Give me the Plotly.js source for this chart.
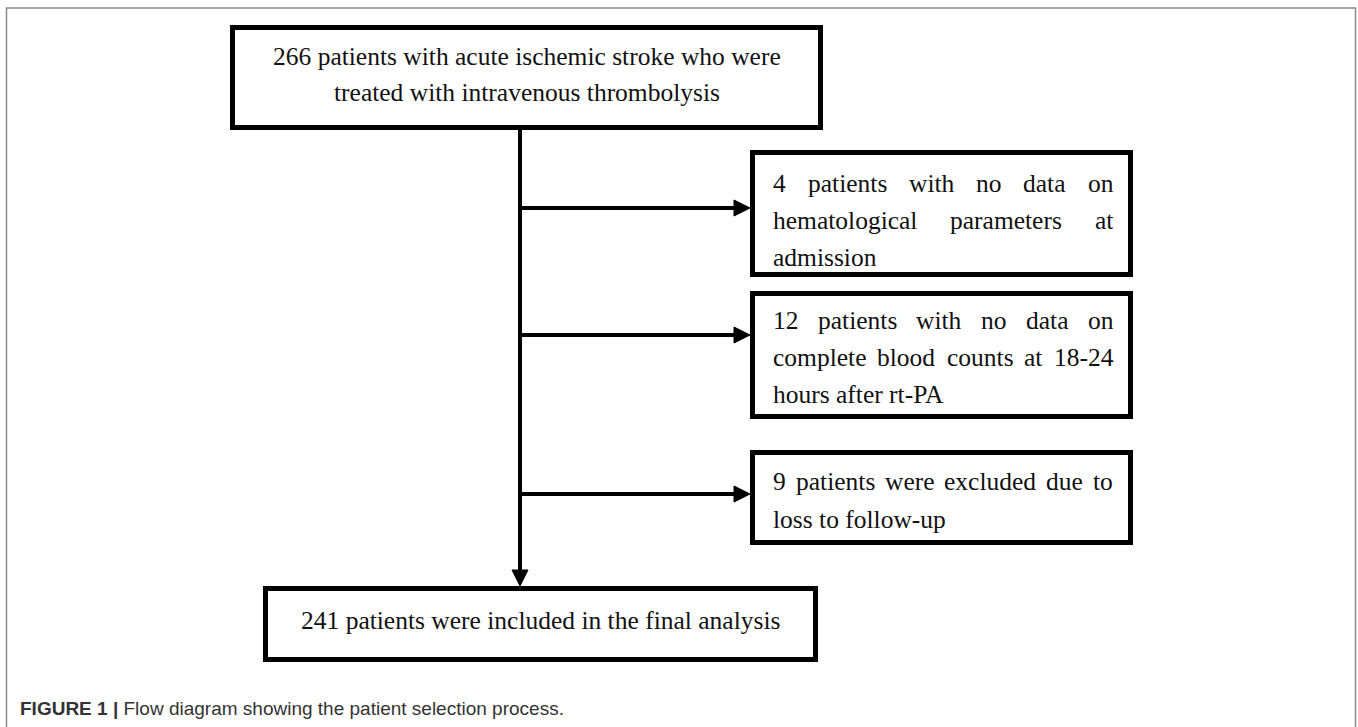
<!DOCTYPE html>
<html>
<head>
<meta charset="utf-8">
<script src="https://cdn.plot.ly/plotly-3.0.1.min.js"></script>
<style>
  html, body { margin: 0; padding: 0; background: #ffffff; }
  #chart { width: 1358px; height: 727px; }
</style>
</head>
<body>
<div id="chart"></div>
<script>
// ---- Data: flow-diagram content ----
const startText = ["266 patients with acute ischemic stroke who were", "treated with intravenous thrombolysis"];
const exclusionTexts = [
  ["4 patients with no data on", "hematological parameters at", "admission"],
  ["12 patients with no data on", "complete blood counts at 18-24", "hours after rt-PA"],
  ["9 patients were excluded due to", "loss to follow-up"]
];
const finalText = ["241 patients were included in the final analysis"];
const captionBold = "FIGURE 1 |";
const captionText = "Flow diagram showing the patient selection process.";

// ---- Layout (pixel coordinates) ----
const W = 1358, H = 727;
const FONT = "Liberation Serif, Times New Roman, serif";
const FS = 25.5;
const BW = 5;           // box border width
const LW = 4;           // connector width
const topBox = {x0: 230, y0: 25, x1: 823, y1: 130, lines: [56, 92]};
const exclBoxes = [
  {x0: 750, y0: 150, x1: 1133, y1: 277, lines: [183, 220, 257], arrowY: 208},
  {x0: 750, y0: 291, x1: 1133, y1: 419, lines: [320, 357, 394], arrowY: 335},
  {x0: 750, y0: 450, x1: 1133, y1: 545, lines: [481, 519], arrowY: 494}
];
const botBox = {x0: 263, y0: 586, x1: 818, y1: 662, lines: [620]};
const trunkX = 520;
const textL = 772, textR = 1112;
const headLen = 16, headHalf = 8;

const shapes = [];
const annotations = [];

// outer frame
shapes.push({type: 'rect', xref: 'x', yref: 'y', x0: 6.5, y0: 8, x1: 1355.5, y1: 760,
  line: {color: '#8a8a8a', width: 1.5}, fillcolor: 'rgba(0,0,0,0)'});

function box(b) {
  const h = BW / 2;
  shapes.push({type: 'rect', xref: 'x', yref: 'y', x0: b.x0 + h, y0: b.y0 + h, x1: b.x1 - h, y1: b.y1 - h,
    line: {color: '#000', width: BW}, fillcolor: '#fff'});
}
function centered(lines, b) {
  const cx = (b.x0 + b.x1) / 2;
  lines.forEach((t, i) => annotations.push({x: cx, y: b.lines[i], xref: 'x', yref: 'y', text: t,
    showarrow: false, xanchor: 'center', yanchor: 'middle', font: {family: FONT, size: FS, color: '#111'}}));
}

// text measurement for justified lines
const ctx = document.createElement('canvas').getContext('2d');
ctx.font = FS + "px 'Liberation Serif'";
function justified(lines, b) {
  lines.forEach((t, i) => {
    const y = b.lines[i];
    const words = t.split(' ');
    if (i === lines.length - 1 || words.length < 2) {
      annotations.push({x: textL, y: y, xref: 'x', yref: 'y', text: t, showarrow: false,
        xanchor: 'left', yanchor: 'middle', borderpad: 0, font: {family: FONT, size: FS, color: '#111'}});
      return;
    }
    const widths = words.map(w => ctx.measureText(w).width);
    const sum = widths.reduce((a, c) => a + c, 0);
    const gap = (textR - textL - sum) / (words.length - 1);
    let cx = textL;
    words.forEach((w, k) => {
      annotations.push({x: cx, y: y, xref: 'x', yref: 'y', text: w, showarrow: false,
        xanchor: 'left', yanchor: 'middle', borderpad: 0, font: {family: FONT, size: FS, color: '#111'}});
      cx += widths[k] + gap;
    });
  });
}

// connectors
shapes.push({type: 'line', xref: 'x', yref: 'y', x0: trunkX, y0: topBox.y1 - 1, x1: trunkX, y1: botBox.y0 - headLen + 2,
  line: {color: '#000', width: LW}});
shapes.push({type: 'path', xref: 'x', yref: 'y',
  path: `M ${trunkX - headHalf} ${botBox.y0 - headLen} L ${trunkX + headHalf} ${botBox.y0 - headLen} L ${trunkX} ${botBox.y0} Z`,
  fillcolor: '#000', line: {color: '#000', width: 1}});
exclBoxes.forEach(b => {
  shapes.push({type: 'line', xref: 'x', yref: 'y', x0: trunkX, y0: b.arrowY, x1: b.x0 - headLen + 2, y1: b.arrowY,
    line: {color: '#000', width: LW}});
  shapes.push({type: 'path', xref: 'x', yref: 'y',
    path: `M ${b.x0 - headLen} ${b.arrowY - headHalf} L ${b.x0 - headLen} ${b.arrowY + headHalf} L ${b.x0} ${b.arrowY} Z`,
    fillcolor: '#000', line: {color: '#000', width: 1}});
});

box(topBox); centered(startText, topBox);
exclBoxes.forEach((b, i) => { box(b); justified(exclusionTexts[i], b); });
box(botBox); centered(finalText, botBox);

// caption
annotations.push({x: 18, y: 708, xref: 'x', yref: 'y', showarrow: false, xanchor: 'left', yanchor: 'middle',
  text: '<b>' + captionBold + '</b> ' + captionText,
  font: {family: 'Liberation Sans, Arial, sans-serif', size: 19, color: '#333'}});

const layout = {
  width: W, height: H,
  margin: {l: 0, r: 0, t: 0, b: 0},
  paper_bgcolor: '#fff', plot_bgcolor: '#fff',
  xaxis: {range: [0, W], visible: false, fixedrange: true},
  yaxis: {range: [H, 0], visible: false, fixedrange: true},
  shapes: shapes, annotations: annotations, showlegend: false
};
Plotly.newPlot('chart', [], layout, {displayModeBar: false, staticPlot: true});
</script>
</body>
</html>
